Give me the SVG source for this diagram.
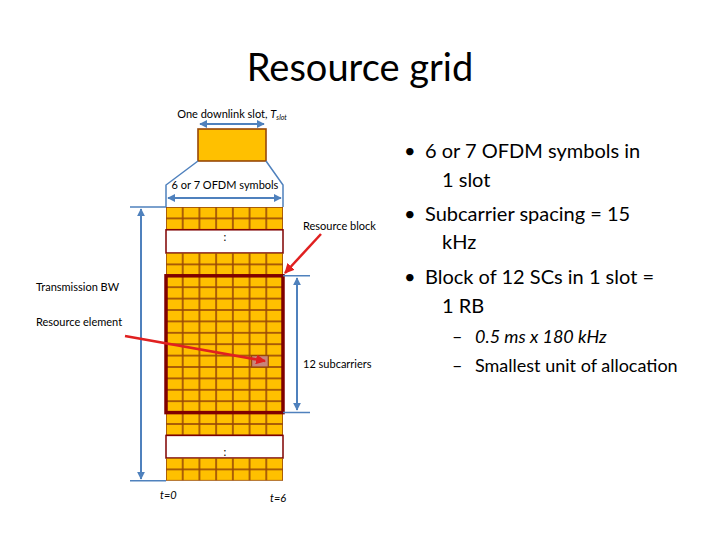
<svg xmlns="http://www.w3.org/2000/svg" width="720" height="540" viewBox="0 0 720 540">
<defs>
<style>
.t{font-family:Lato,"Liberation Sans",sans-serif;fill:#000}
.s{font-size:11px}
.c{fill:#FFC000;stroke:#984807;stroke-width:1.6}
.b{stroke:#4F81BD;stroke-width:2;fill:none}
.g{stroke:#4F81BD;stroke-width:1.5;fill:none}
.r{stroke:#E02020;stroke-width:2.5;fill:none}
</style>
<marker id="ab" viewBox="0 0 10 10" refX="9" refY="5" markerWidth="4" markerHeight="4" orient="auto-start-reverse"><path d="M0,0L10,5L0,10z" fill="#4F81BD"/></marker>
<marker id="ar" viewBox="0 0 10 10" refX="9" refY="5" markerWidth="4" markerHeight="4" orient="auto"><path d="M0,0L10,5L0,10z" fill="#E02020"/></marker>
<pattern id="cell" x="166" y="207" width="16.714" height="11.4" patternUnits="userSpaceOnUse">
<rect width="16.714" height="11.4" fill="#FFC000" stroke="#984807" stroke-width="1.6"/>
</pattern>
</defs>
<rect width="720" height="540" fill="#fff"/>
<text class="t" x="360" y="81" font-size="38" text-anchor="middle">Resource grid</text>

<g id="slot">
<text class="t s" x="232" y="118" text-anchor="middle">One downlink slot, <tspan font-style="italic">T</tspan><tspan font-style="italic" font-size="7" dy="2">slot</tspan></text>
<line class="b" x1="200" y1="124" x2="264" y2="124" marker-start="url(#ab)" marker-end="url(#ab)"/>
<rect x="198" y="129" width="68" height="32" fill="#FFC000" stroke="#984807" stroke-width="1.6"/>
<path class="g" d="M198,161L166,185V207M266,161L283,185V207"/>
</g>

<g id="grid">
<rect x="166" y="207" width="117" height="22.8" fill="url(#cell)"/>
<rect x="166" y="229.8" width="117" height="23.2" fill="#fff" stroke="#7F0000" stroke-width="1.5"/>
<text class="t s" x="225" y="241" text-anchor="middle">:</text>
<pattern id="cell2" x="166" y="253" width="16.714" height="11.4" patternUnits="userSpaceOnUse">
<rect width="16.714" height="11.4" fill="#FFC000" stroke="#984807" stroke-width="1.6"/>
</pattern>
<rect x="166" y="253" width="117" height="182.4" fill="url(#cell2)"/>
<rect x="166" y="435.4" width="117" height="22.6" fill="#fff" stroke="#7F0000" stroke-width="1.5"/>
<text class="t s" x="225" y="456" text-anchor="middle">:</text>
<pattern id="cell3" x="166" y="458" width="16.714" height="11.4" patternUnits="userSpaceOnUse">
<rect width="16.714" height="11.4" fill="#FFC000" stroke="#984807" stroke-width="1.6"/>
</pattern>
<rect x="166" y="458" width="117" height="22.8" fill="url(#cell3)"/>
<rect id="re" x="251.6" y="355.6" width="16.7" height="11.4" fill="#C9857A" stroke="#984807" stroke-width="1.2"/>
<rect id="rb" x="166" y="275.8" width="117" height="136.8" fill="none" stroke="#7F0000" stroke-width="3.5"/>
</g>

<g id="labels">
<text class="t s" x="225" y="189" text-anchor="middle">6 or 7 OFDM symbols</text>
<text class="t s" x="303" y="230">Resource block</text>
<text class="t s" x="36" y="291">Transmission BW</text>
<text class="t s" x="36" y="326">Resource element</text>
<text class="t s" x="303" y="368">12 subcarriers</text>
<text class="t s" x="160" y="499" font-style="italic">t=0</text>
<text class="t s" x="270" y="502" font-style="italic">t=6</text>
</g>

<g id="connectors">
<line class="b" x1="168" y1="198" x2="281" y2="198" marker-start="url(#ab)" marker-end="url(#ab)"/>
<path class="g" d="M130,207H166M130,480.8H166M283,275.8H310M283,412.6H310"/>
<line class="b" x1="141" y1="209" x2="141" y2="479" marker-start="url(#ab)" marker-end="url(#ab)"/>
<line class="b" x1="297" y1="278" x2="297" y2="410" marker-start="url(#ab)" marker-end="url(#ab)"/>
<line class="r" x1="321" y1="234" x2="285" y2="273" marker-end="url(#ar)"/>
<line class="r" x1="125" y1="336" x2="265" y2="361" marker-end="url(#ar)"/>
</g>

<g id="bullets" class="t" font-size="20">
<text x="404" y="158">•</text><text x="425" y="158">6 or 7 OFDM symbols in</text>
<text x="442" y="187">1 slot</text>
<text x="404" y="221">•</text><text x="425" y="221">Subcarrier spacing =  15</text>
<text x="442" y="249">kHz</text>
<text x="404" y="284">•</text><text x="425" y="284">Block of 12 SCs in 1 slot =</text>
<text x="442" y="313">1 RB</text>
<text x="452" y="343" font-size="18">–</text><text x="475" y="343" font-size="18" font-style="italic">0.5 ms x 180 kHz</text>
<text x="452" y="372" font-size="18">–</text><text x="475" y="372" font-size="18">Smallest unit of allocation</text>
</g>
</svg>
